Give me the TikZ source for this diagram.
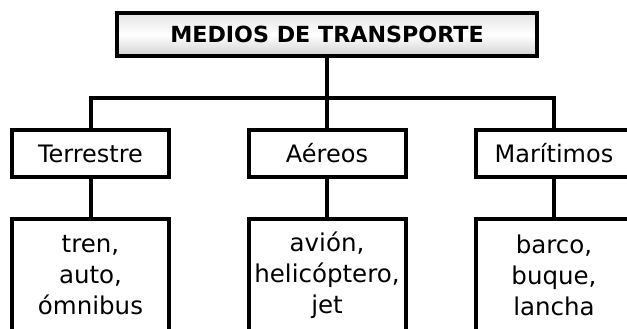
\documentclass[tikz,border=0pt]{standalone}
\usepackage{fontspec}
\setmainfont{DejaVu Sans}
\usepackage[rgb]{xcolor}
\usepackage{tikz}

\tikzset{
  titlebox/.style={draw, line width=4pt, minimum width=420pt, minimum height=43pt,
    top color=gray!22, bottom color=gray!35, middle color=white,
    font=\fontsize{22.2}{26}\selectfont\bfseries},
  typebox/.style={draw, line width=4pt, fill=white, minimum width=157pt, minimum height=47pt,
    font=\fontsize{24}{28}\selectfont},
  listbox/.style={draw, line width=4pt, fill=white, minimum width=157pt, minimum height=112pt,
    align=center, font=\fontsize{24.5}{31}\selectfont},
  link/.style={line width=4pt}
}

\begin{document}
\begin{tikzpicture}[x=1pt, y=-1pt]

% Fixes the picture size and cuts off the boxes that run past the edges
\useasboundingbox (0,0) rectangle (627,329);
\clip (0,0) rectangle (627,329);

% Draws the title box at the top
\node[titlebox] (medios) at (327,34.5) {MEDIOS DE TRANSPORTE};

% Draws the three kinds of transport
\node[typebox] (terrestre) at (90.5,153.5) {Terrestre};
\node[typebox] (aereos) at (327,153.5) {Aéreos};
\node[typebox] (maritimos) at (554,153.5) {Marítimos};

% Draws the lists of vehicles under each kind
\node[listbox] (tierra) at (90.5,275) {tren,\\auto,\\ómnibus};
\node[listbox] (aire) at (327,275) {avión,\\helicóptero,\\jet};
\node[listbox] (mar) at (554,275) {barco,\\buque,\\lancha};

% Joins the title to the kinds
\coordinate (bus) at (327,98);
\draw[link] (medios) -- (aereos);
\draw[link] (terrestre.north) |- (bus) -| (maritimos.north);

% Joins each kind to its list
\draw[link] (terrestre) -- (tierra);
\draw[link] (aereos) -- (aire);
\draw[link] (maritimos) -- (mar);

\end{tikzpicture}
\end{document}
